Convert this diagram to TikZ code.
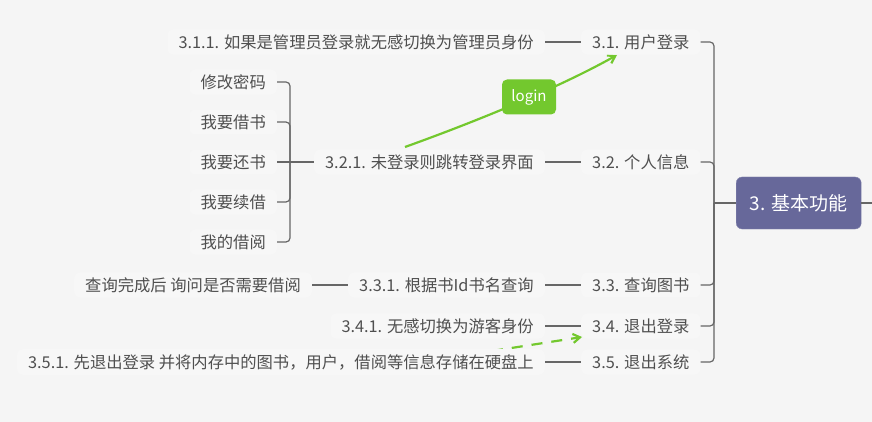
\documentclass[tikz,border=0pt]{standalone}
\usepackage{fontspec}
\setmainfont{Noto Sans CJK SC}
\usepackage{xcolor}
\usetikzlibrary{positioning,arrows.meta,calc}
\definecolor{mBack}{HTML}{F5F5F5}
\definecolor{mNode}{HTML}{F7F7F7}
\definecolor{mText}{HTML}{4F4F4F}
\definecolor{mLine}{HTML}{666666}
\definecolor{mRoot}{HTML}{67689A}
\definecolor{mGreen}{HTML}{73C82E}

\begin{document}
\begin{tikzpicture}[x=1pt,y=-1pt,
  topic/.style={fill=mNode,text=mText,rounded corners=6pt,inner xsep=11pt,inner ysep=5pt,font=\fontsize{16.3}{19}\selectfont},
  branch/.style={draw=mLine,line width=1.2pt,rounded corners=4pt},
  rel/.style={draw=mGreen,line width=2.2pt,-{Straight Barb[length=7pt,width=9pt]}}
]
\fill[mBack] (0,0) rectangle (872,422);
\useasboundingbox (0,0) rectangle (872,422);

% relationship arrows (under the topics)
\coordinate (relA) at (405,147);
\coordinate (relB) at (617,55);
\draw[rel] (relA) .. controls (480,120) and (560,87) .. (relB);
\coordinate (relC) at (492,351);
\coordinate (relD) at (582,337);
\draw[rel,dash pattern=on 11pt off 9pt] (relC) -- (relD);

% main topics
\node[topic,anchor=west] (t31) at (581,42) {3.1. 用户登录};
\node[topic,anchor=west] (t32) at (581,162) {3.2. 个人信息};
\node[topic,anchor=west] (t33) at (581,285) {3.3. 查询图书};
\node[topic,anchor=west] (t34) at (581,326) {3.4. 退出登录};
\node[topic,anchor=west] (t35) at (581,362) {3.5. 退出系统};

% sub topics
\node[topic,anchor=east] (s311) at (545,42) {3.1.1. 如果是管理员登录就无感切换为管理员身份};
\node[topic,anchor=east] (s321) at (545,162) {3.2.1. 未登录则跳转登录界面};
\node[topic,anchor=east] (s331) at (545,285) {3.3.1. 根据书Id书名查询};
\node[topic,anchor=east] (s341) at (545,326) {3.4.1. 无感切换为游客身份};
\node[topic,anchor=east] (s351) at (545,362) {3.5.1. 先退出登录 并将内存中的图书，用户，借阅等信息存储在硬盘上};
\node[topic,anchor=east] (s3311) at (312,285) {查询完成后 询问是否需要借阅};

% menu items
\node[topic,anchor=east] (m1) at (277,82) {修改密码};
\node[topic,anchor=east] (m2) at (277,122) {我要借书};
\node[topic,anchor=east] (m3) at (277,162) {我要还书};
\node[topic,anchor=east] (m4) at (277,202) {我要续借};
\node[topic,anchor=east] (m5) at (277,242) {我的借阅};

% root
\node[fill=mRoot,draw=mRoot!80!white,text=white,rounded corners=6pt,
  minimum width=125pt,minimum height=52pt,anchor=west,
  font=\fontsize{19}{22}\selectfont] (root) at (736,203) {3. 基本功能};

% brackets
\coordinate (rb) at (714,203);
\coordinate (lb) at (290,162);
\coordinate (edge) at (872,203);
\draw[branch] (t31.east) -| (rb) |- (t35.east);
\draw[branch] (t32.east) -| (rb);
\draw[branch] (t33.east) -| (rb);
\draw[branch] (t34.east) -| (rb);
\draw[branch] (rb) -- (root.west);
\draw[branch] (root.east) -- (edge);

\draw[branch] (m1.east) -| (lb) |- (m5.east);
\draw[branch] (m2.east) -| (lb);
\draw[branch] (m4.east) -| (lb);
\draw[branch] (m3.east) -- (s321.west);

\foreach \a/\b in {s311/t31,s321/t32,s331/t33,s341/t34,s351/t35,s3311/s331}
  \draw[branch] (\a.east) -- (\b.west);

% label on the login arrow
\node[fill=mGreen,text=white,rounded corners=5pt,minimum width=54pt,minimum height=35pt,
  font=\fontsize{15}{18}\selectfont] (login) at (529,97) {login};
\end{tikzpicture}
\end{document}
